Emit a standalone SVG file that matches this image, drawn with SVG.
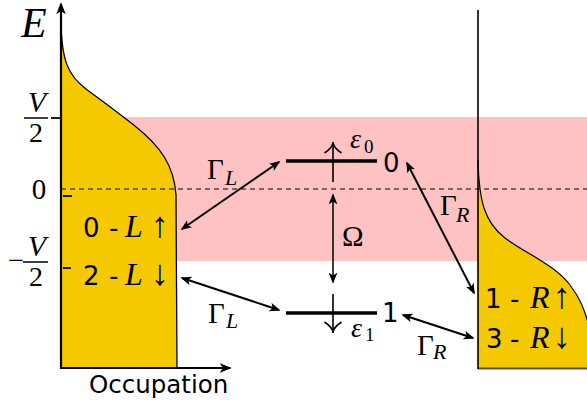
<svg xmlns="http://www.w3.org/2000/svg" width="587" height="403" viewBox="0 0 587 403">
<style>
.mi{font-family:"Liberation Serif","DejaVu Serif",serif;font-style:italic;fill:#000}
.rm{font-family:"Liberation Serif","DejaVu Serif",serif;fill:#000}
.ar{font-family:"Liberation Serif","DejaVu Serif",serif;fill:#000;font-size:36px}
.sans{font-family:"DejaVu Sans","Liberation Sans",sans-serif;fill:#000}
.conn{stroke:#000;stroke-width:2;fill:none;marker-start:url(#ah);marker-end:url(#ah)}
.tick{stroke:#000;stroke-width:1.8}
.level{stroke:#000;stroke-width:3.5}
.spin{stroke:#000;stroke-width:1.6;fill:none}
</style>
<defs>
<marker id="ah" viewBox="0 0 10 8" refX="8.5" refY="4" markerWidth="11" markerHeight="9" markerUnits="userSpaceOnUse" orient="auto-start-reverse">
<path d="M0,0 L10,4 L0,8 L2.5,4 Z" fill="#000"/>
</marker>
<marker id="ax" viewBox="0 0 10 8" refX="8.5" refY="4" markerWidth="12" markerHeight="10" markerUnits="userSpaceOnUse" orient="auto">
<path d="M0,0 L10,4 L0,8 L2.5,4 Z" fill="#000"/>
</marker>
</defs>
<rect width="587" height="403" fill="#fff"/>
<g id="bias-window">
<rect x="61" y="117" width="526" height="144" fill="#ffc2c2"/>
</g>
<g id="left-lead">
<path d="M61,18 C61,62 69,76 86,89 C101,100 115,110 135,126 C160,146 174,165 176,195 L177,368 L61,368 Z" fill="#f5c900"/>
<path d="M61,18 C61,62 69,76 86,89 C101,100 115,110 135,126 C160,146 174,165 176,195 L177,368" fill="none" stroke="#000" stroke-width="1.3"/>
</g>
<g id="right-lead">
<path d="M478,160 C479,200 484,222 505,238 C525,253 555,265 570,285 C580,298 585,310 590,330 L590,368 L478,368 Z" fill="#f5c900"/>
<path d="M478,160 C479,200 484,222 505,238 C525,253 555,265 570,285 C580,298 585,310 590,330" fill="none" stroke="#000" stroke-width="1.2"/>
<line x1="478" y1="368.5" x2="587" y2="368.5" stroke="#555" stroke-width="2"/>
<line x1="478" y1="10" x2="478" y2="369" stroke="#000" stroke-width="1.6"/>
</g>
<g id="fermi-level">
<line x1="61" y1="189" x2="587" y2="189" stroke="#000" stroke-width="1.2" stroke-dasharray="5,4"/>
</g>
<g id="axes">
<line x1="61" y1="369" x2="61" y2="4" stroke="#000" stroke-width="2.2" marker-end="url(#ax)"/>
<line x1="60" y1="368" x2="230" y2="368" stroke="#000" stroke-width="2.2" marker-end="url(#ax)"/>
<line class="tick" x1="51" y1="118" x2="61" y2="118"/>
<line class="tick" x1="63" y1="196" x2="72" y2="196"/>
<line class="tick" x1="63" y1="268" x2="71" y2="268"/>
<text class="mi" x="21" y="37" font-size="42">E</text>
<text class="sans" x="89" y="393" font-size="24.5">Occupation</text>
<text class="mi" x="37" y="112" font-size="30" text-anchor="middle">V</text>
<line x1="24" y1="118" x2="48" y2="118" stroke="#000" stroke-width="1.5"/>
<text class="rm" x="36" y="142" font-size="28" text-anchor="middle">2</text>
<text class="rm" x="39" y="199" font-size="29" text-anchor="middle">0</text>
<text class="rm" x="16" y="270" font-size="29" text-anchor="middle">−</text>
<text class="mi" x="37" y="256" font-size="30" text-anchor="middle">V</text>
<line x1="23" y1="262" x2="48" y2="262" stroke="#000" stroke-width="1.5"/>
<text class="rm" x="36" y="286" font-size="28" text-anchor="middle">2</text>
</g>
<g id="state-L-up">
<text y="237" font-size="26"><tspan class="sans" x="83">0</tspan><tspan class="sans" x="109">-</tspan><tspan class="mi" x="125" font-size="32">L</tspan><tspan class="ar" x="151">↑</tspan></text>
</g>
<g id="state-L-down">
<text y="285" font-size="26"><tspan class="sans" x="83">2</tspan><tspan class="sans" x="109">-</tspan><tspan class="mi" x="125" font-size="32">L</tspan><tspan class="ar" x="151">↓</tspan></text>
</g>
<g id="state-R-up">
<text y="308" font-size="26"><tspan class="sans" x="485">1</tspan><tspan class="sans" x="510">-</tspan><tspan class="mi" x="530" font-size="32">R</tspan><tspan class="ar" x="553">↑</tspan></text>
</g>
<g id="state-R-down">
<text y="348" font-size="26"><tspan class="sans" x="486">3</tspan><tspan class="sans" x="510">-</tspan><tspan class="mi" x="530" font-size="32">R</tspan><tspan class="ar" x="553">↓</tspan></text>
</g>
<g id="level-0">
<line class="level" x1="286" y1="161" x2="377" y2="161"/>
<path class="spin" d="M333,182 L333,142 M324.5,153 C329,150 333,147 333,142 M341.5,153 C337,150 333,147 333,142"/>
<text class="mi" x="350" y="148" font-size="28">ε</text>
<text class="rm" x="364" y="153" font-size="19">0</text>
<text class="sans" x="383" y="172" font-size="26">0</text>
</g>
<g id="level-1">
<line class="level" x1="286" y1="313" x2="377" y2="313"/>
<path class="spin" d="M333,294 L333,333 M324.5,322 C329,325 333,328 333,333 M341.5,322 C337,325 333,328 333,333"/>
<text class="mi" x="351" y="337" font-size="28">ε</text>
<text class="rm" x="365" y="341" font-size="19">1</text>
<text class="sans" x="382" y="322" font-size="26">1</text>
</g>
<g id="connectors">
<line class="conn" x1="182" y1="229" x2="279" y2="162"/>
<line class="conn" x1="182" y1="278" x2="279" y2="310"/>
<line class="conn" x1="407" y1="163" x2="474" y2="293"/>
<line class="conn" x1="403" y1="315" x2="473" y2="338"/>
<line x1="333" y1="195" x2="333" y2="282" stroke="#000" stroke-width="1.5" marker-start="url(#ah)" marker-end="url(#ah)"/>
<text class="rm" x="207" y="179" font-size="29">Γ</text>
<text class="mi" x="225" y="185" font-size="22">L</text>
<text class="rm" x="208" y="323" font-size="29">Γ</text>
<text class="mi" x="226" y="328" font-size="22">L</text>
<text class="rm" x="440" y="215" font-size="29">Γ</text>
<text class="mi" x="456" y="222" font-size="22">R</text>
<text class="rm" x="417" y="355" font-size="29">Γ</text>
<text class="mi" x="433" y="359" font-size="22">R</text>
<text class="rm" x="342" y="246" font-size="29">Ω</text>
</g>
</svg>
